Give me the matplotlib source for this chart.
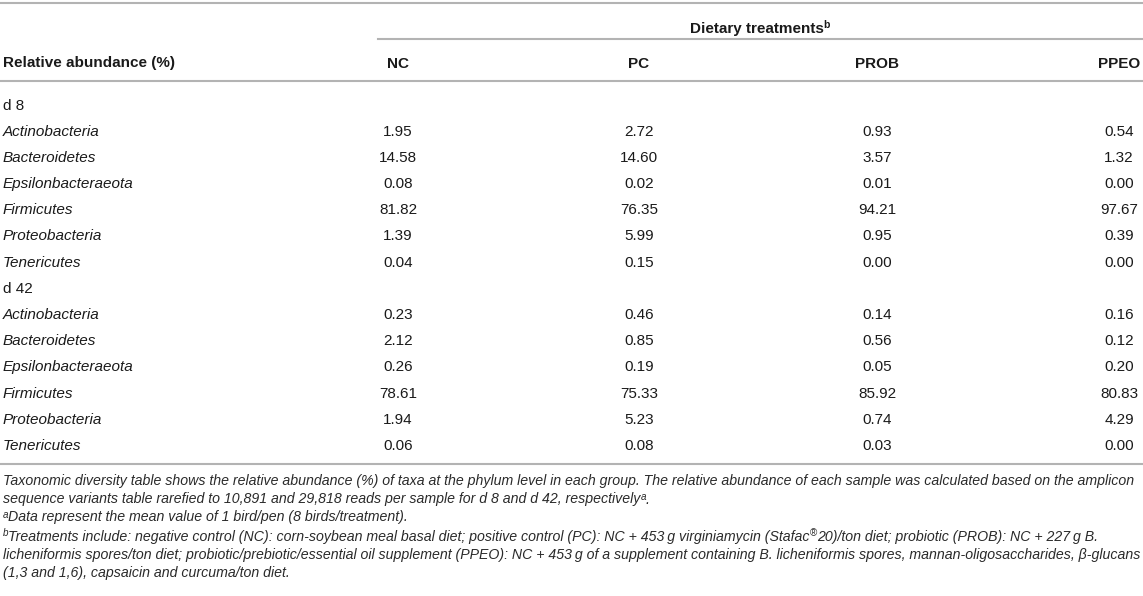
import matplotlib
matplotlib.use("Agg")
import matplotlib.pyplot as plt
from matplotlib.lines import Line2D

# ---------------- data ----------------
columns = ["NC", "PC", "PROB", "PPEO"]
phyla = ["Actinobacteria", "Bacteroidetes", "Epsilonbacteraeota",
         "Firmicutes", "Proteobacteria", "Tenericutes"]
day_labels = ["d 8", "d 42"]

d8_nc = ["1.95", "14.58", "0.08", "81.82", "1.39", "0.04"]
d8_pc = ["2.72", "14.60", "0.02", "76.35", "5.99", "0.15"]
d8_prob = ["0.93", "3.57", "0.01", "94.21", "0.95", "0.00"]
d8_ppeo = ["0.54", "1.32", "0.00", "97.67", "0.39", "0.00"]

d42_nc = ["0.23", "2.12", "0.26", "78.61", "1.94", "0.06"]
d42_pc = ["0.46", "0.85", "0.19", "75.33", "5.23", "0.08"]
d42_prob = ["0.14", "0.56", "0.05", "85.92", "0.74", "0.03"]
d42_ppeo = ["0.16", "0.12", "0.20", "80.83", "4.29", "0.00"]

row_header = "Relative abundance (%)"
spanner = "Dietary treatments"

# ---------------- layout ----------------
W, H = 1143, 596
fig = plt.figure(figsize=(W / 100, H / 100), dpi=100)
fig.patch.set_facecolor("white")
FONT = "Liberation Sans"
TXT = "#1a1a1a"
NOTE = "#2a2a2a"
LINE = "#b3b3b3"
BODY = 11.0


def fx(x):
    return x / W


def fy(y):
    return 1 - y / H


def hline(y, x0=0, x1=W):
    fig.add_artist(Line2D([fx(x0), fx(x1)], [fy(y), fy(y)], color=LINE,
                          lw=1.5, transform=fig.transFigure))


renderer = fig.canvas.get_renderer()


def width_of(s, **kw):
    t = fig.text(0, 0, s, fontfamily=FONT, **kw)
    w = t.get_window_extent(renderer).width
    t.remove()
    return w


def rich(x, y, segs, ha="left"):
    # segs: (text, kwargs, rise_px)
    widths = [width_of(s, **kw) for s, kw, r in segs]
    total = sum(widths)
    if ha == "center":
        x = x - total / 2
    elif ha == "right":
        x = x - total
    for (s, kw, r), w in zip(segs, widths):
        fig.text(fx(x), fy(y - r), s, fontfamily=FONT, va="baseline",
                 ha="left", **kw)
        x += w


col_x = [398, 639, 877, 1119]
BASE = 5.5  # center -> baseline offset (px)

# rules
hline(3)
hline(39, 378, W)
hline(81)
hline(464)

# spanner
rich(760, 27 + BASE, [(spanner, dict(fontsize=BODY, fontweight="bold", color=TXT), 0),
                      ("b", dict(fontsize=BODY * 0.68, fontweight="bold", color=TXT), 5)],
     ha="center")

# header row
fig.text(fx(3), fy(62 + BASE), row_header, fontfamily=FONT, fontsize=BODY,
         fontweight="bold", color=TXT, va="baseline", ha="left")
for cx, c in zip(col_x, columns):
    fig.text(fx(cx), fy(62 + BASE), c, fontfamily=FONT, fontsize=BODY,
             fontweight="bold", color=TXT, va="baseline", ha="center")

# body
blocks = [(day_labels[0], [d8_nc, d8_pc, d8_prob, d8_ppeo]),
          (day_labels[1], [d42_nc, d42_pc, d42_prob, d42_ppeo])]
y = 104
step = 26.2
for label, cols in blocks:
    fig.text(fx(3), fy(y + BASE), label, fontfamily=FONT, fontsize=BODY,
             color=TXT, va="baseline", ha="left")
    y += step
    for i, name in enumerate(phyla):
        fig.text(fx(3), fy(y + BASE), name, fontfamily=FONT, fontsize=BODY,
                 style="italic", color=TXT, va="baseline", ha="left")
        for cx, vals in zip(col_x, cols):
            fig.text(fx(cx), fy(y + BASE), vals[i], fontfamily=FONT,
                     fontsize=BODY, color=TXT, va="baseline", ha="center")
        y += step

# footnotes
line1 = ("Taxonomic diversity table shows the relative abundance (%) of taxa at the phylum "
         "level in each group. The relative abundance of each sample was calculated based on the amplicon")
# fit footnote size to the reference line width
w10 = width_of(line1, fontsize=10, style="italic")
FN = 10 * 1134 / w10
it = dict(fontsize=FN, style="italic", color=NOTE)
sup = dict(fontsize=FN * 0.7, style="italic", color=NOTE)
supn = dict(fontsize=FN * 0.7, color=NOTE)
FB = 4.5

rich(3, 481 + FB, [(line1, it, 0)])
rich(3, 499 + FB, [("sequence variants table rarefied to 10,891 and 29,818 reads per sample for d 8 and d 42, respectively", it, 0),
                   ("a", sup, 4), (".", it, 0)])
rich(3, 517 + FB, [("a", sup, 4), ("Data represent the mean value of 1 bird/pen (8 birds/treatment).", it, 0)])
rich(3, 536 + FB, [("b", sup, 4),
                   ("Treatments include: negative control (NC): corn-soybean meal basal diet; positive control (PC): "
                    "NC + 453\u2009g virginiamycin (Stafac", it, 0),
                   ("\u00ae", supn, 4),
                   ("20)/ton diet; probiotic (PROB): NC + 227\u2009g B.", it, 0)])
rich(3, 555 + FB, [("licheniformis spores/ton diet; probiotic/prebiotic/essential oil supplement (PPEO): NC + 453\u2009g of "
                    "a supplement containing B. licheniformis spores, mannan-oligosaccharides, \u03b2-glucans", it, 0)])
rich(3, 573 + FB, [("(1,3 and 1,6), capsaicin and curcuma/ton diet.", it, 0)])

fig.savefig("out.png", dpi=100, facecolor="white")
